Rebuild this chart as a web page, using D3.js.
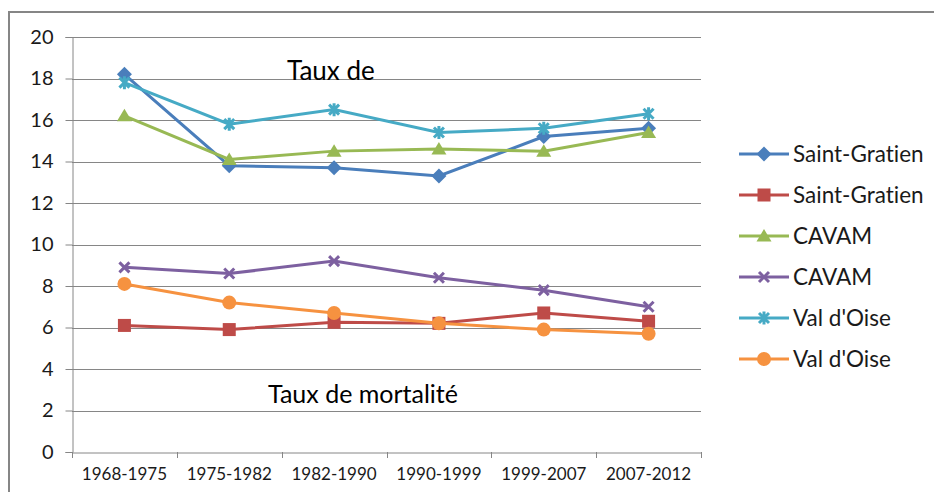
<!DOCTYPE html>
<html>
<head>
<meta charset="utf-8">
<script src="https://cdn.jsdelivr.net/npm/d3@7"></script>
<style>
body { margin: 0; background: #fff; }
text { font-family: Lato, "Open Sans", sans-serif; font-variant-ligatures: none; }
</style>
</head>
<body>
<script>
var w = 934;
var h = 492;

var periods = ["1968-1975", "1975-1982", "1982-1990", "1990-1999", "1999-2007", "2007-2012"];
var yTicks = [0, 2, 4, 6, 8, 10, 12, 14, 16, 18, 20];

var saintGratienNat = [18.2, 13.8, 13.7, 13.3, 15.2, 15.6];
var saintGratienMort = [6.1, 5.9, 6.25, 6.2, 6.7, 6.3];
var cavamNat = [16.2, 14.1, 14.5, 14.6, 14.5, 15.4];
var cavamMort = [8.9, 8.6, 9.2, 8.4, 7.8, 7.0];
var valOiseNat = [17.8, 15.8, 16.5, 15.4, 15.6, 16.3];
var valOiseMort = [8.1, 7.2, 6.7, 6.2, 5.9, 5.7];

var series = [
  {name: "Saint-Gratien", values: saintGratienNat, color: "#4a7ebb", marker: "diamond"},
  {name: "Saint-Gratien", values: saintGratienMort, color: "#be4b48", marker: "square"},
  {name: "CAVAM", values: cavamNat, color: "#98b954", marker: "triangle"},
  {name: "CAVAM", values: cavamMort, color: "#7d60a0", marker: "x"},
  {name: "Val d'Oise", values: valOiseNat, color: "#46aac5", marker: "star"},
  {name: "Val d'Oise", values: valOiseMort, color: "#f69240", marker: "circle"}
];

var svg = d3.select("body").append("svg").attr("width", w).attr("height", h);

// outer chart border (cut by the picture on right and bottom)
svg.append("rect").attr("x", 9).attr("y", 12).attr("width", 940).attr("height", 500)
  .attr("fill", "none").attr("stroke", "#868686").attr("stroke-width", 2);

var pLeft = 72, pRight = 701, pTop = 37, pBottom = 452;
var xS = d3.scaleBand().domain(periods).range([pLeft, pRight]);
var yS = d3.scaleLinear().domain([0, 20]).range([pBottom, pTop]);

// gridlines
svg.append("g").selectAll("line").data(yTicks.slice(1)).enter().append("line")
  .attr("x1", pLeft).attr("x2", pRight)
  .attr("y1", function(d) { return Math.round(yS(d)) + 0.5; })
  .attr("y2", function(d) { return Math.round(yS(d)) + 0.5; })
  .attr("stroke", "#868686").attr("stroke-width", 1);

// y axis
var yA = d3.axisLeft(yS).tickValues(yTicks).tickSize(7).tickPadding(12);
var gy = svg.append("g").attr("transform", "translate(" + (pLeft + 0.5) + ",0)").call(yA);
gy.select(".domain").attr("stroke", "#868686");
gy.selectAll(".tick line").attr("stroke", "#868686");
gy.selectAll(".tick text").attr("font-size", "20px").attr("fill", "#1a1a1a").style("font-family", "Lato, sans-serif");

// x axis
var xA = d3.axisBottom(xS).tickSize(0).tickPadding(15);
var gx = svg.append("g").attr("transform", "translate(0," + (pBottom + 0.5) + ")").call(xA);
gx.select(".domain").attr("stroke", "#868686");
gx.selectAll(".tick text").attr("font-size", "17px").attr("fill", "#1a1a1a").style("font-family", "Lato, sans-serif");
svg.append("g").selectAll("line").data(periods.concat([null])).enter().append("line")
  .attr("x1", function(d, i) { return Math.round(pLeft + i * xS.bandwidth()) + 0.5; })
  .attr("x2", function(d, i) { return Math.round(pLeft + i * xS.bandwidth()) + 0.5; })
  .attr("y1", pBottom).attr("y2", pBottom + 6)
  .attr("stroke", "#868686");

function drawMarker(g, type, color) {
  if (type === "diamond") {
    g.append("path").attr("d", "M0,-7.5L7.5,0L0,7.5L-7.5,0Z").attr("fill", color);
  } else if (type === "square") {
    g.append("rect").attr("x", -6.5).attr("y", -6.5).attr("width", 13).attr("height", 13).attr("fill", color);
  } else if (type === "triangle") {
    g.append("path").attr("d", "M0,-7L7.5,5.5L-7.5,5.5Z").attr("fill", color);
  } else if (type === "circle") {
    g.append("circle").attr("r", 7).attr("fill", color);
  } else if (type === "x") {
    g.append("path").attr("d", "M-5,-5L5,5M-5,5L5,-5").attr("stroke", color).attr("stroke-width", 3).attr("fill", "none");
  } else if (type === "star") {
    g.append("path").attr("d", "M-5,-5L5,5M-5,5L5,-5M0,-6.5L0,6.5").attr("stroke", color).attr("stroke-width", 3).attr("fill", "none");
  }
}

var line = d3.line()
  .x(function(d, i) { return xS(periods[i]) + xS.bandwidth() / 2; })
  .y(function(d) { return yS(d); });

series.forEach(function(s) {
  var g = svg.append("g");
  g.append("path").attr("d", line(s.values)).attr("fill", "none")
    .attr("stroke", s.color).attr("stroke-width", 3);
  s.values.forEach(function(v, i) {
    var m = g.append("g").attr("transform", "translate(" + (xS(periods[i]) + xS.bandwidth() / 2) + "," + yS(v) + ")");
    drawMarker(m, s.marker, s.color);
  });
});

// annotations
svg.append("text").attr("x", 287).attr("y", 80).attr("font-size", "26px").attr("fill", "#000").text("Taux de");
svg.append("text").attr("x", 268).attr("y", 403).attr("font-size", "25px").attr("fill", "#000").text("Taux de mortalité");

// legend
var leg = svg.append("g");
series.forEach(function(s, i) {
  var y = 154 + i * 41;
  var g = leg.append("g").attr("transform", "translate(0," + y + ")");
  g.append("line").attr("x1", 739).attr("x2", 789).attr("y1", 0).attr("y2", 0)
    .attr("stroke", s.color).attr("stroke-width", 3);
  var m = g.append("g").attr("transform", "translate(764,0)");
  drawMarker(m, s.marker, s.color);
  g.append("text").attr("x", 793).attr("y", 8).attr("font-size", "22.5px").attr("fill", "#1a1a1a").text(s.name);
});
</script>
</body>
</html>
